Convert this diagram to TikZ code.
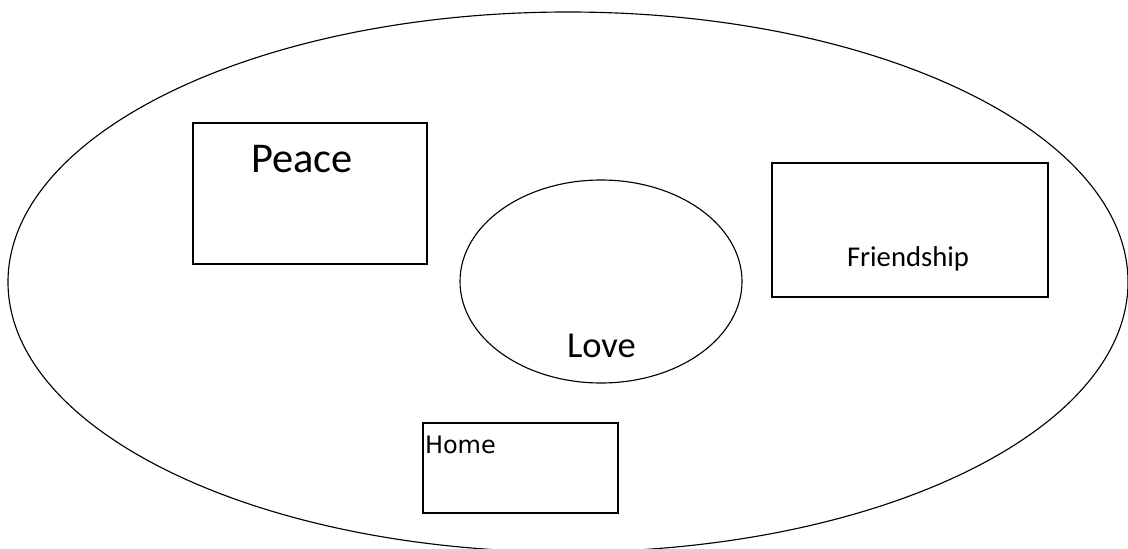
\documentclass[tikz,border=0pt]{standalone}
\usepackage{fontspec}
\setmainfont{Carlito}
\newfontfamily\dejavu{DejaVu Sans}
\usetikzlibrary{shapes.geometric}
\begin{document}
\begin{tikzpicture}[x=0.75pt,y=-0.75pt,
  shapeline/.style={draw=black,line width=0.85pt,inner sep=0pt,outer sep=0pt},
  boxshape/.style={shapeline,rectangle},
  ovalshape/.style={shapeline,ellipse},
  label/.style={inner sep=0pt,outer sep=0pt,anchor=base west,text=black}]
\useasboundingbox (0,0) rectangle (1128,549);
\clip (0,0) rectangle (1128,549);
\node[ovalshape,minimum width=1120*0.75pt,minimum height=540*0.75pt] (world) at (568,282) {};
\node[boxshape,minimum width=234*0.75pt,minimum height=141*0.75pt] (peacebox) at (310,193.5) {};
\node[boxshape,minimum width=276*0.75pt,minimum height=134*0.75pt] (friendbox) at (910,230) {};
\node[boxshape,minimum width=195*0.75pt,minimum height=90*0.75pt] (homebox) at (520.5,468) {};
\node[ovalshape,minimum width=282*0.75pt,minimum height=203*0.75pt] (loveoval) at (601,281.5) {};
\node[label,font=\fontsize{31.8pt}{36pt}\selectfont] (peace) at (251,173) {Peace};
\node[label,font=\fontsize{21.5pt}{25pt}\selectfont] (friend) at (847,267) {Friendship};
\node[label,font=\fontsize{27.4pt}{31pt}\selectfont] (love) at (567,357) {Love};
\node[label,font=\dejavu\fontsize{18pt}{22pt}\selectfont] (home) at (425,453) {Home};
\end{tikzpicture}
\end{document}
